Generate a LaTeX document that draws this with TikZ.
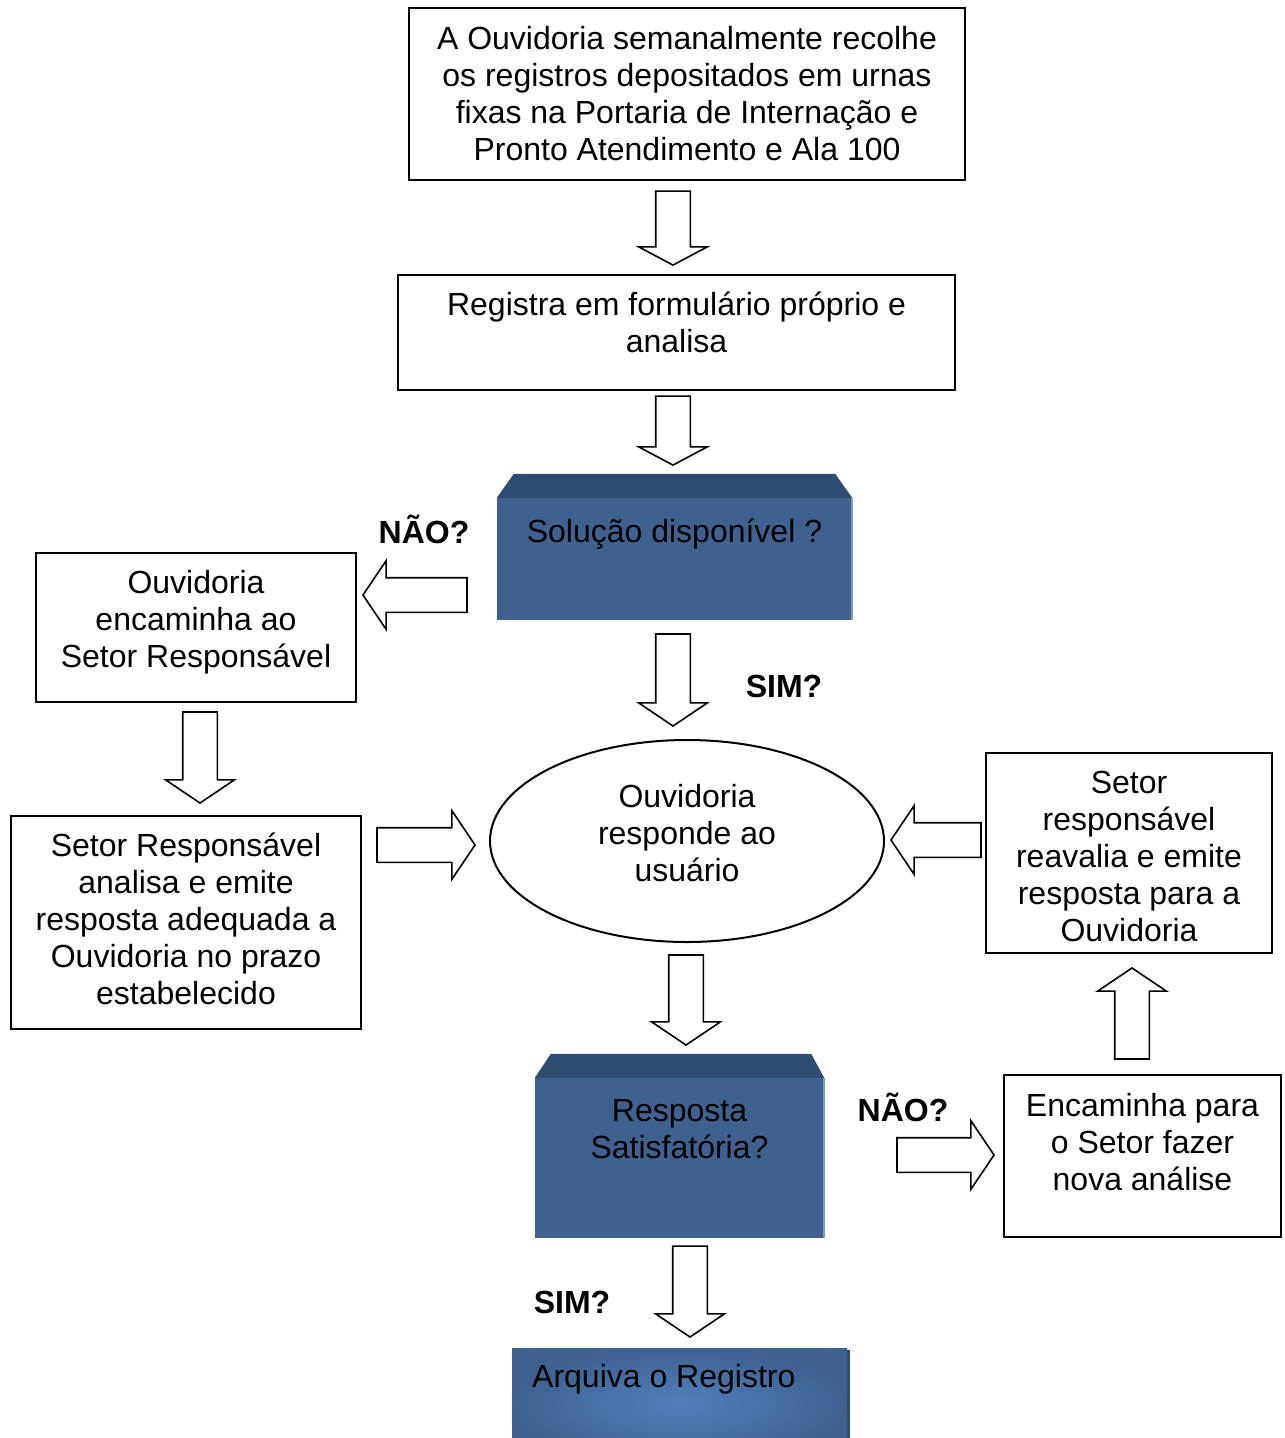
\documentclass[tikz,border=0pt]{standalone}
\usepackage{fontspec}
\setmainfont{Liberation Sans}
\usetikzlibrary{shapes.geometric,shapes.arrows}

\definecolor{azulcaixa}{RGB}{62,97,144}
\definecolor{azultopo}{RGB}{46,75,113}
\definecolor{azulclaro}{RGB}{80,128,190}
\definecolor{azulborda}{RGB}{122,156,200}

\begin{document}
\begin{tikzpicture}[x=1pt,y=-1pt,
  every node/.style={font=\fontsize{32}{37}\selectfont},
  caixa/.style={draw,line width=2pt,align=center,inner sep=0pt},
  seta/.style={single arrow,draw,line width=1.6pt,fill=white,anchor=tip,
    single arrow head extend=17pt,single arrow tip angle=112,
    inner xsep=0pt,inner ysep=16.5pt,minimum height=#1},
  azul/.style={fill=azulcaixa,inner sep=0pt},
  resp/.style={anchor=base,font=\bfseries\fontsize{32}{37}\selectfont}]
 \useasboundingbox (0,0) rectangle (1285,1438);

 \node[caixa,minimum width=556pt,minimum height=172pt] (recolhe) at (687,94)
   {A Ouvidoria semanalmente recolhe\\os registros depositados em urnas\\fixas na Portaria de Internação e\\Pronto Atendimento e Ala 100};
 \node[caixa,minimum width=557pt,minimum height=115pt] (registra) at (676.5,332.5)
   {Registra em formulário próprio e\\analisa\rule[-20pt]{0pt}{20pt}};

 \node[azul,minimum width=355pt,minimum height=122pt] (solucao) at (674.5,559) {};
 \fill[azultopo] (solucao.north west) -- ++(17,-24) -- ([xshift=-17pt,yshift=24pt]solucao.north east)
   -- (solucao.north east) -- cycle;
 \draw[azulborda,line width=1.5pt] (solucao.north east) -- (solucao.south east);
 \node[anchor=base] (soltxt) at ([yshift=-44.5pt]solucao.north) {Solução disponível ?};

 \node[caixa,minimum width=320pt,minimum height=149pt] (encaminha) at (196,627.5)
   {Ouvidoria\\encaminha ao\\Setor Responsável\rule[-18pt]{0pt}{18pt}};
 \node[caixa,minimum width=350pt,minimum height=213pt] (setor) at (186,922.5)
   {Setor Responsável\\analisa e emite\\resposta adequada a\\Ouvidoria no prazo\\estabelecido\rule[-7pt]{0pt}{7pt}};
 \node[ellipse,draw,line width=2pt,align=center,inner sep=0pt,
   minimum width=394pt,minimum height=202pt] (responde) at (687,841)
   {Ouvidoria\\responde ao\\usuário\rule[-16pt]{0pt}{16pt}};
 \node[caixa,minimum width=286pt,minimum height=200pt] (reavalia) at (1129,853)
   {\rule{0pt}{29pt}Setor\\responsável\\reavalia e emite\\resposta para a\\Ouvidoria};

 \node[azul,minimum width=289pt,minimum height=160pt] (satisf) at (679.5,1158) {};
 \fill[azultopo] (satisf.north west) -- ++(16,-24) -- ([xshift=-13pt,yshift=24pt]satisf.north east)
   -- (satisf.north east) -- cycle;
 \draw[azulborda,line width=1.5pt] (satisf.north east) -- (satisf.south east);
 \node[anchor=north,align=center,inner sep=0pt] (satistxt) at ([yshift=-21.5pt]satisf.north)
   {Resposta\\Satisfatória?};

 \node[caixa,minimum width=277pt,minimum height=162pt] (nova) at (1142.5,1156)
   {Encaminha para\\o Setor fazer\\nova análise\rule[-29pt]{0pt}{29pt}};

 \shade[inner color=azulclaro,outer color=azulcaixa] (512,1348) rectangle (847,1460);
 \draw[azultopo,line width=3pt] (848.5,1350) -- (848.5,1460);
 \node[anchor=base west,inner sep=0pt] (arquiva) at (532,1387.5) {Arquiva o Registro};

 \node[seta=74,rotate=-90,single arrow tip angle=124] (s1) at (673,266) {};
 \node[seta=69,rotate=-90,single arrow tip angle=124] (s2) at (673,466) {};
 \node[seta=104,rotate=180] (s3) at (362,595) {};
 \node[seta=92,rotate=-90] (s4) at (673,727) {};
 \node[seta=91,rotate=-90] (s5) at (200,804) {};
 \node[seta=98] (s6) at (476,845) {};
 \node[seta=90,rotate=180] (s7) at (890,840) {};
 \node[seta=90,rotate=-90] (s8) at (686,1046) {};
 \node[seta=97] (s9) at (995,1155) {};
 \node[seta=91,rotate=90] (s10) at (1132,967) {};
 \node[seta=91,rotate=-90] (s11) at (690,1338) {};

 \node[resp] (nao1) at (424,543.5) {NÃO?};
 \node[resp] (sim1) at (784,697.5) {SIM?};
 \node[resp] (nao2) at (903,1121.5) {NÃO?};
 \node[resp] (sim2) at (572,1313.5) {SIM?};
\end{tikzpicture}
\end{document}
